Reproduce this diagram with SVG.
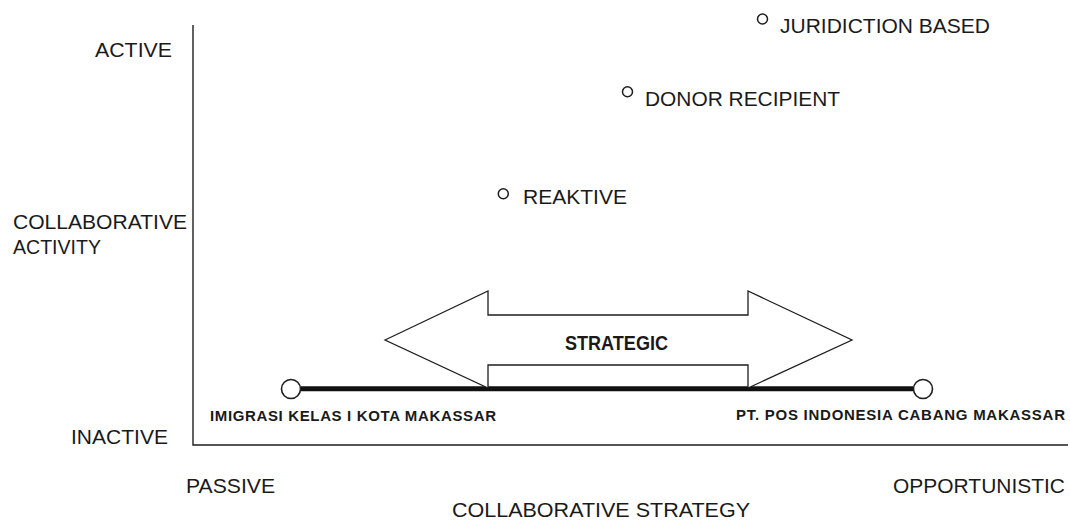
<svg xmlns="http://www.w3.org/2000/svg" width="1070" height="521" viewBox="0 0 1070 521">
<style>
text{font-family:"Liberation Sans",Arial,sans-serif;fill:#1a1a1a}
.lbl{font-size:21px}
.org{font-size:15px;font-weight:bold}
.strat{font-size:20.5px;font-weight:bold}
.dot{fill:#fff;stroke:#1e1e1e;stroke-width:1.5}
.end{fill:#fff;stroke:#1e1e1e;stroke-width:1.6}
.axis{stroke:#1e1e1e;stroke-width:1.4;fill:none}
</style>
<rect width="1070" height="521" fill="#fff"/>
<g id="axes">
<path class="axis" d="M193,25 V445 H1068"/>
</g>
<g id="axis-labels">
<text class="lbl" x="95" y="57" textLength="77" lengthAdjust="spacingAndGlyphs">ACTIVE</text>
<text class="lbl" x="13" y="229" textLength="174" lengthAdjust="spacingAndGlyphs">COLLABORATIVE</text>
<text class="lbl" x="13" y="254" textLength="88" lengthAdjust="spacingAndGlyphs">ACTIVITY</text>
<text class="lbl" x="71" y="444" textLength="97" lengthAdjust="spacingAndGlyphs">INACTIVE</text>
<text class="lbl" x="186" y="493" textLength="89" lengthAdjust="spacingAndGlyphs">PASSIVE</text>
<text class="lbl" x="893" y="493" textLength="172" lengthAdjust="spacingAndGlyphs">OPPORTUNISTIC</text>
<text class="lbl" x="452" y="517" textLength="298" lengthAdjust="spacingAndGlyphs">COLLABORATIVE STRATEGY</text>
</g>
<g id="juridiction-based">
<circle class="dot" cx="762.5" cy="19" r="5"/>
<text class="lbl" x="780" y="33" textLength="210" lengthAdjust="spacingAndGlyphs">JURIDICTION BASED</text>
</g>
<g id="donor-recipient">
<circle class="dot" cx="627.5" cy="91.7" r="5"/>
<text class="lbl" x="645" y="106" textLength="195" lengthAdjust="spacingAndGlyphs">DONOR RECIPIENT</text>
</g>
<g id="reaktive">
<circle class="dot" cx="503.3" cy="193.8" r="5"/>
<text class="lbl" x="523" y="204" textLength="104" lengthAdjust="spacingAndGlyphs">REAKTIVE</text>
</g>
<g id="connectors">
<line x1="301" y1="388.8" x2="913" y2="388.8" stroke="#111" stroke-width="5"/>
</g>
<g id="strategic">
<polygon points="385,340 488,291 488,315 748,315 748,291 852,340 748,388 748,365 488,365 488,388" fill="#fff" stroke="#1e1e1e" stroke-width="1.3" stroke-linejoin="miter"/>
<text class="strat" x="565" y="350" textLength="103" lengthAdjust="spacingAndGlyphs">STRATEGIC</text>
</g>
<g id="imigrasi">
<circle class="end" cx="291" cy="389" r="9.5"/>
<text class="org" x="210" y="421" textLength="286" lengthAdjust="spacing">IMIGRASI KELAS I KOTA MAKASSAR</text>
</g>
<g id="pt-pos">
<circle class="end" cx="923" cy="389" r="9.5"/>
<text class="org" x="736" y="420" textLength="329" lengthAdjust="spacing">PT. POS INDONESIA CABANG MAKASSAR</text>
</g>
</svg>
